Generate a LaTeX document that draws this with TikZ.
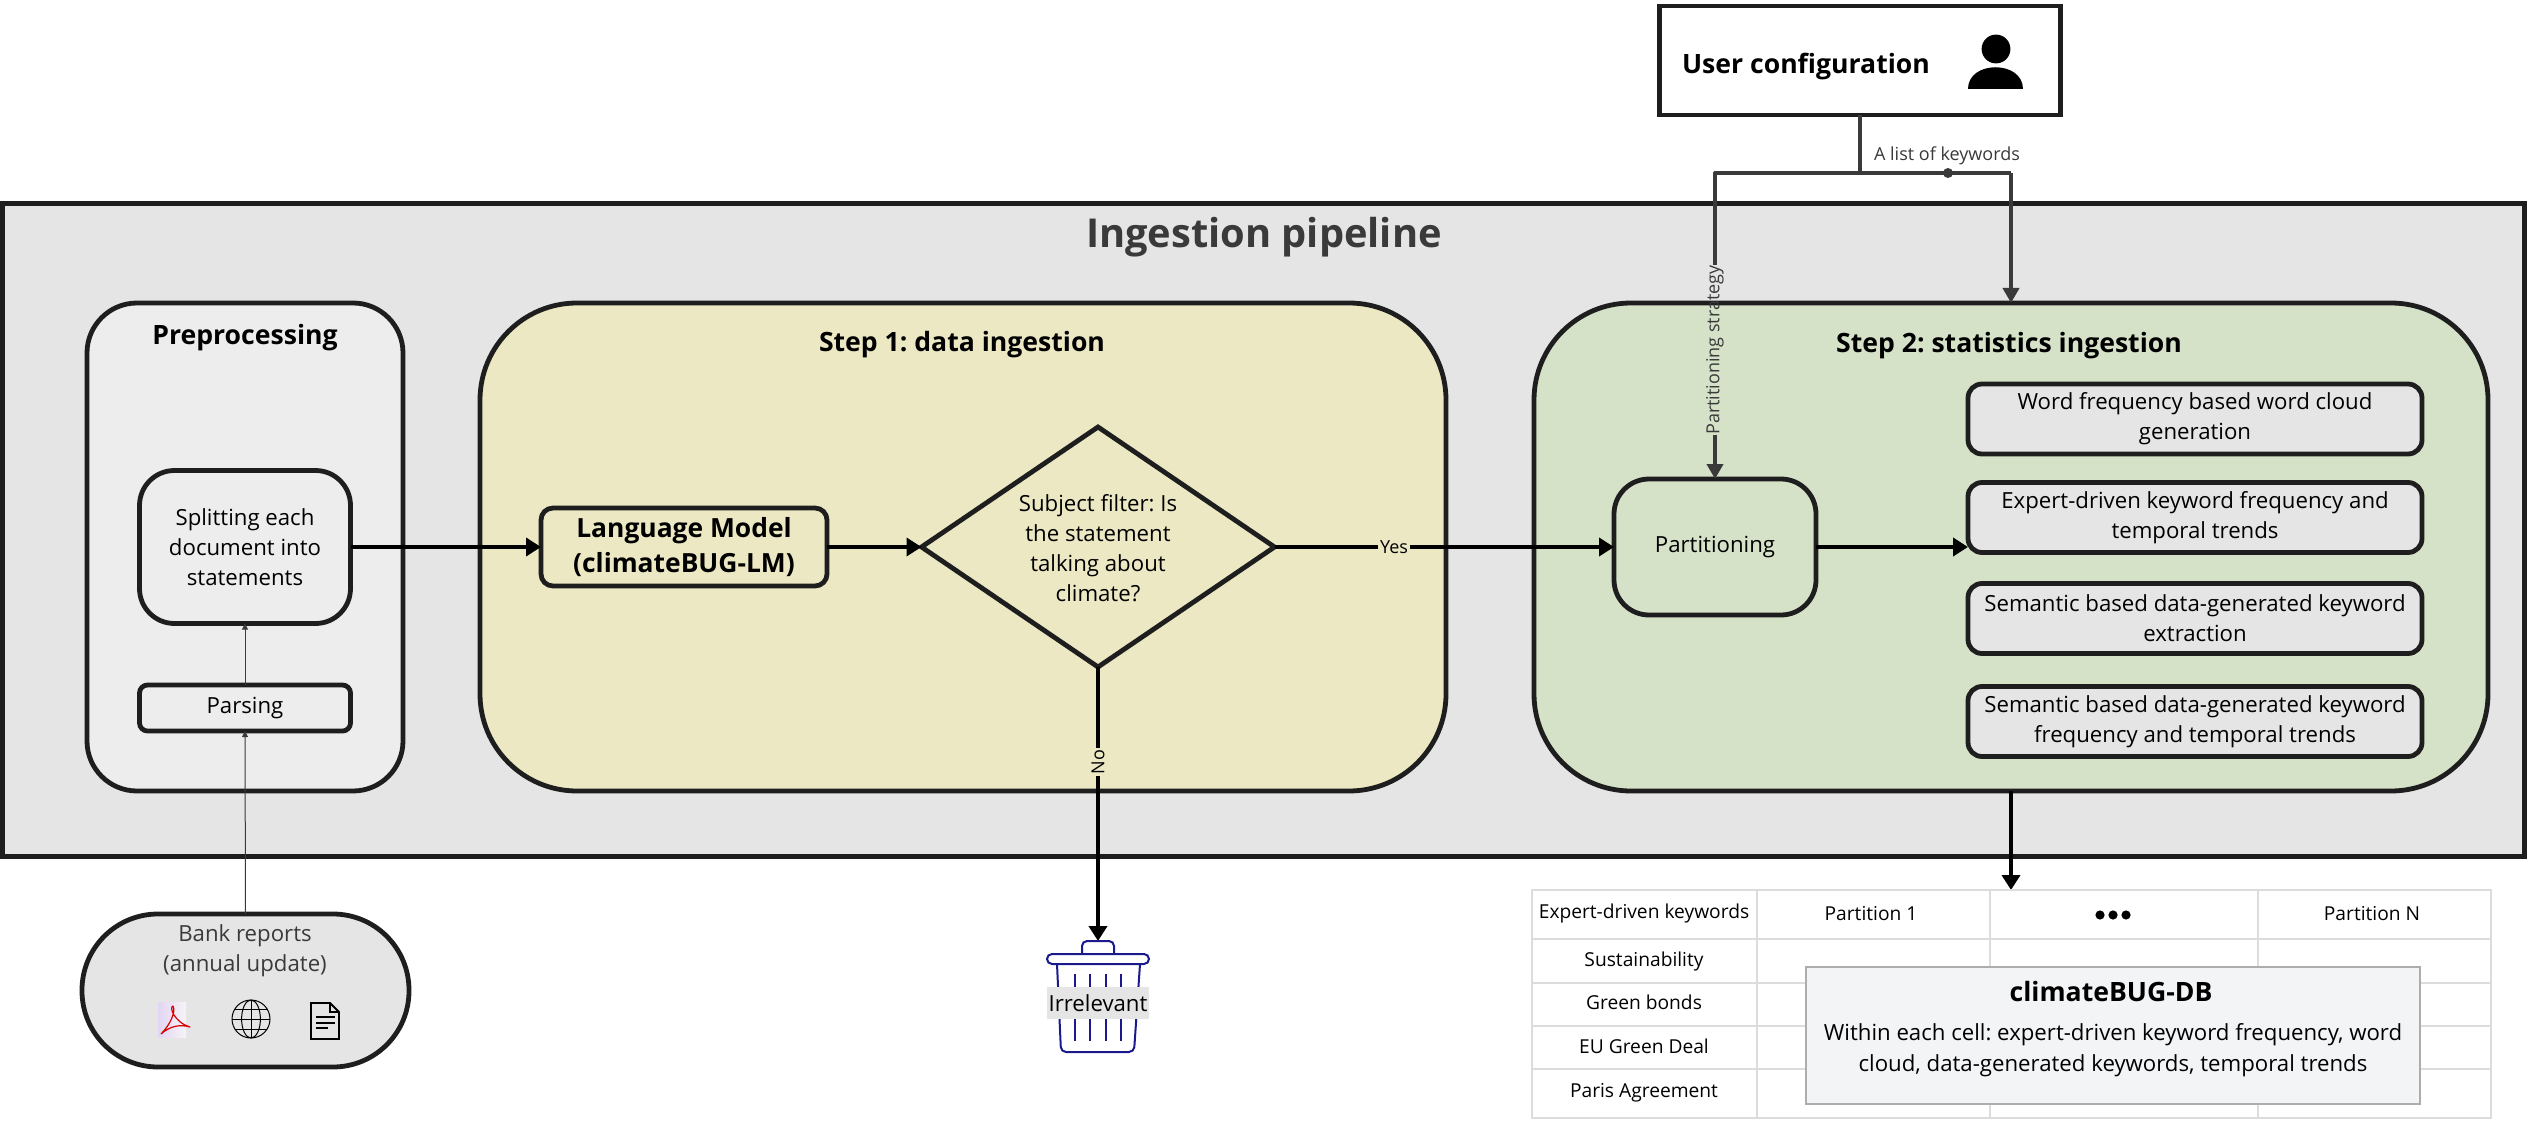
\documentclass[tikz,border=0pt]{standalone}
\usepackage{fontspec}
\setmainfont{Open Sans}
\usetikzlibrary{arrows.meta,shapes.geometric,calc}
\definecolor{ink}{HTML}{1E1E1E}
\definecolor{graytxt}{HTML}{3A3A3A}
\definecolor{panel}{HTML}{E5E5E5}
\definecolor{prefill}{HTML}{EDEDED}
\definecolor{yellowfill}{HTML}{EBE8C3}
\definecolor{greenfill}{HTML}{D5E2C8}
\definecolor{navy}{HTML}{1A1A8C}
\definecolor{tabline}{HTML}{DCDCDC}
\definecolor{popfill}{HTML}{F3F4F6}
\definecolor{popline}{HTML}{ADADAD}
\definecolor{pdfleft}{HTML}{E2D6F4}
\definecolor{pdfright}{HTML}{F6F3F6}
\frenchspacing
\tikzset{
  x=0.5pt,y=-0.5pt,
  sz/.style 2 args={minimum width=#1*0.5pt,minimum height=#2*0.5pt},
  rad/.style={rounded corners=#1*0.5pt},
  basebox/.style={draw=ink,line width=2.4pt,inner sep=0pt,outer sep=0pt,align=center,text=black,font=\fontsize{11.1}{15}\selectfont},
  stepttl/.style={font=\fontsize{13.3}{16}\selectfont\bfseries,text=black,inner sep=0pt},
  smalltxt/.style={font=\fontsize{9}{12}\selectfont,inner sep=0pt},
  cell/.style={font=\fontsize{9.6}{12}\selectfont,inner sep=0pt,text=black},
  keybox/.style={basebox,fill=panel,sz={454}{70},rad=14},
  flow/.style={line width=2.2pt,draw=black,-{Triangle[length=7.5pt,width=9pt]}},
  flowplain/.style={line width=2.2pt,draw=black},
  grayflow/.style={line width=2pt,draw=graytxt,-{Triangle[length=7.5pt,width=8pt]}},
  grayline/.style={line width=2pt,draw=graytxt},
  thin flow/.style={line width=0.5pt,draw=graytxt,-{Triangle[length=3pt,width=3pt]}},
  tabl/.style={draw=tabline,line width=0.7pt},
  trash/.style={draw=navy,line width=1pt},
}
\begin{document}
\begin{tikzpicture}
\useasboundingbox (0,0) rectangle (2527,1134);
% outer
\node[basebox,fill=panel,sz={2522}{653}] (outer) at (1263.5,530) {};
\node[font=\fontsize{19.9}{22}\selectfont\bfseries,text=graytxt,inner sep=0pt] (outertitle) at (1264,237) {Ingestion pipeline};
% preprocessing
\node[basebox,fill=prefill,sz={316}{488},rad=50] (pre) at (245,547) {};
\node[stepttl] (pretitle) at (245,338) {Preprocessing};
\node[basebox,fill=prefill,sz={211}{153},rad=35] (split) at (245,547) {Splitting each\\document into\\statements};
\node[basebox,fill=prefill,sz={211}{46},rad=8] (parse) at (245,708) {Parsing};
% step1
\node[basebox,fill=yellowfill,sz={966}{488},rad=97] (step1) at (963,547) {};
\node[stepttl] (s1title) at (962,345) {Step 1: data ingestion};
\node[basebox,fill=yellowfill,sz={286}{78},rad=12,font=\fontsize{13.2}{17.5}\selectfont\bfseries] (lm) at (684,547) {Language Model\\(climateBUG-LM)};
\node[draw=ink,line width=2.4pt,diamond,aspect=1.47,sz={353}{240},inner sep=0pt,outer sep=0pt,fill=yellowfill] (dia) at (1098,547) {};
\node[align=center,inner sep=0pt,font=\fontsize{11.1}{15}\selectfont] (diatxt) at (1098,548) {Subject filter: Is\\the statement\\talking about\\climate?};
% step2
\node[basebox,fill=greenfill,sz={954}{488},rad=97] (step2) at (2011,547) {};
\node[stepttl] (s2title) at (2009,346) {Step 2: statistics ingestion};
\node[basebox,fill=greenfill,sz={202}{136},rad=35] (part) at (1715,547) {Partitioning};
\node[keybox] (k1) at (2195,419) {Word frequency based word cloud\\generation};
\node[keybox] (k2) at (2195,517.5) {Expert-driven keyword frequency and\\temporal trends};
\node[keybox] (k3) at (2195,618.5) {Semantic based data-generated keyword\\extraction};
\node[keybox] (k4) at (2195,721.5) {Semantic based data-generated keyword\\frequency and temporal trends};
% user configuration
\node[draw=ink,line width=2.4pt,fill=white,sz={401}{109},inner sep=0pt,outer sep=0pt] (user) at (1860,60.5) {};
\node[font=\fontsize{13.3}{16}\selectfont\bfseries,inner sep=0pt] (usertxt) at (1806,67) {User configuration};
\fill[black] (1996,49) circle[radius=7.2pt];
\fill[black] (1968,89) .. controls (1968,60) and (2023,60) .. (2023,89) -- cycle;
% list of keywords connectors
\coordinate (junc) at (1860,173);
\coordinate (jl) at (1715,173);
\coordinate (jr) at (2011,173);
\node[smalltxt,text=graytxt] (klabel) at (1947,156) {A list of keywords};
\node[circle,fill=graytxt,minimum size=5pt,inner sep=0pt] (kdot) at (1948,173) {};
\node[smalltxt,text=graytxt,rotate=90,outer sep=0pt] (plabel) at (1715,350) {Partitioning strategy};
\draw[grayline] (user.south) -- (junc);
\draw[grayline,line join=round] (jr) -- (jl) -- (plabel.east);
\draw[grayflow] (plabel.west) -- (part.north);
\draw[grayflow] (jr) -- (step2.north);
% main connectors
\node[smalltxt,text=black,outer sep=1pt] (yes) at (1394,547) {Yes};
\node[smalltxt,text=black,rotate=90,outer sep=1pt] (no) at (1098,762) {No};
\draw[flow] (split.east) -- (lm.west);
\draw[flow] (lm.east) -- (dia.west);
\draw[flowplain] (dia.east) -- (yes.west);
\draw[flow] (yes.east) -- (part.west);
\draw[flowplain] (dia.south) -- (no.east);
\coordinate (trashtop) at (1098,941);
\draw[flow] (no.west) -- (trashtop);
\coordinate (k2in) at (part.east -| k2.west);
\draw[flow] (part.east) -- (k2in);
\draw[thin flow] (parse.north) -- (split.south);
% bank reports
\node[draw=ink,line width=2.4pt,fill=panel,sz={327}{153},rad=76,inner sep=0pt,outer sep=0pt] (bank) at (245.5,990.5) {};
\node[align=center,inner sep=0pt,text=graytxt,font=\fontsize{11.1}{15}\selectfont] (banktxt) at (245,951) {Bank reports\\(annual update)};
\draw[thin flow] (bank.north) -- (parse.south);
\shade[left color=pdfleft,right color=pdfright] (158,1002) rectangle (186,1037);
\draw[red!85!black,line width=0.6pt,line join=round] (161,1034) .. controls (170,1025) and (176,1012) .. (173,1006) .. controls (169,1007) and (174,1022) .. (190,1027) .. controls (180,1024) and (170,1026) .. (161,1034);
\draw[black,line width=0.5pt] (251,1019) circle[radius=9.5pt];
\draw[black,line width=0.5pt] (251,1019) ellipse[x radius=4.7pt,y radius=9.5pt];
\draw[black,line width=0.5pt] (251,1000) -- (251,1038) (232,1019) -- (270,1019) (235,1009) -- (267,1009) (235,1029) -- (267,1029);
\draw[black,line width=0.9pt,line join=miter] (311,1003) -- (330,1003) -- (339,1012) -- (339,1039) -- (311,1039) -- cycle (330,1003) -- (330,1012) -- (339,1012);
\draw[black,line width=0.8pt] (316,1017) -- (335,1017) (316,1023) -- (335,1023) (316,1028) -- (328,1028);
% trash
\draw[trash,rounded corners=2.5pt] (1082,954) -- (1082,941) -- (1114,941) -- (1114,954);
\draw[trash,rounded corners=2.5pt] (1047,954) rectangle (1149,964);
\draw[trash,rounded corners=2.5pt] (1057,964) -- (1061,1052) -- (1134,1052) -- (1140,964);
\draw[trash] (1075,974) -- (1075,1041) (1090,974) -- (1090,1041) (1106,974) -- (1106,1041) (1121,974) -- (1121,1041);
\node[fill=panel,sz={102}{32},inner sep=0pt,font=\fontsize{11.1}{15}\selectfont] (irr) at (1098,1003) {Irrelevant};
% step2 to table
\coordinate (tabtop) at (2011,890);
\draw[flow] (step2.south) -- (tabtop);
% table
\draw[tabl] (1532,890) rectangle (2491,1118);
\draw[tabl] (1532,939) -- (2491,939) (1532,983) -- (2491,983) (1532,1026) -- (2491,1026) (1532,1069) -- (2491,1069);
\draw[tabl] (1757,890) -- (1757,1118) (1990,890) -- (1990,1118) (2258,890) -- (2258,1118);
\node[cell] (c1) at (1644,914) {Expert-driven keywords};
\node[cell] (c2) at (1644,962) {Sustainability};
\node[cell] (c3) at (1644,1002) {Green bonds};
\node[cell] (c4) at (1644,1046) {EU Green Deal};
\node[cell] (c5) at (1644,1093) {Paris Agreement};
\node[cell] (p1) at (1871,914) {Partition 1};
\fill[black] (2100,915) circle[radius=2.3pt] (2113,915) circle[radius=2.3pt] (2126,915) circle[radius=2.3pt];
\node[cell] (pn) at (2372,914) {Partition N};
% popup
\node[draw=popline,line width=1pt,fill=popfill,sz={614}{137},inner sep=0pt,outer sep=0pt] (pop) at (2113,1035.5) {};
\node[font=\fontsize{13.3}{16}\selectfont\bfseries,inner sep=0pt] (poptitle) at (2111,992) {climateBUG-DB};
\node[align=center,inner sep=0pt,font=\fontsize{11.1}{15.2}\selectfont] (poptxt) at (2113,1050) {Within each cell: expert-driven keyword frequency, word\\cloud, data-generated keywords, temporal trends};
\end{tikzpicture}
\end{document}
